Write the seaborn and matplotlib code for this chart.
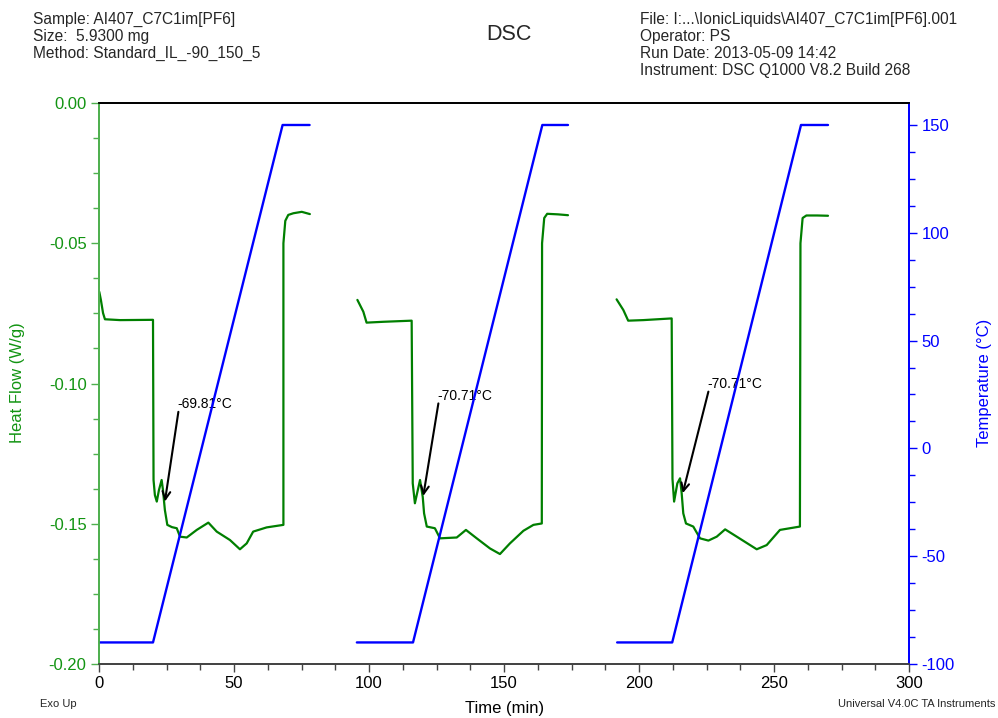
import matplotlib
matplotlib.use("Agg")
import matplotlib.pyplot as plt
import matplotlib.ticker as mticker
import seaborn as sns
import pandas as pd

# ---- data ----
cycle1_time = [0.1, 0.7, 1.5, 2.2, 7.8, 20.0, 20.2, 20.7, 21.4, 22.2, 23.2, 23.7, 24.1, 24.4, 25.3, 27.0,
               28.8, 30.0, 32.5, 36.2, 40.5, 43.6, 48.5, 52.2, 54.7, 57.1, 62.1, 68.3, 68.3, 69.0, 70.1,
               72.0, 75.1, 78.1]
cycle1_hf = [-0.0673, -0.0702, -0.0749, -0.0771, -0.0774, -0.0773, -0.1344, -0.1398, -0.1421, -0.1380,
             -0.1344, -0.1380, -0.1421, -0.1451, -0.1504, -0.1512, -0.1516, -0.1546, -0.1549, -0.1522,
             -0.1496, -0.1528, -0.1558, -0.1591, -0.1570, -0.1528, -0.1513, -0.1504, -0.0500, -0.0420,
             -0.0399, -0.0393, -0.0388, -0.0396]

cycle2_time = [95.7, 97.9, 99.1, 105.3, 115.8, 116.2, 117.0, 118.9, 119.9, 120.4, 121.4, 124.4, 126.3,
               132.5, 135.9, 139.9, 144.8, 148.5, 152.2, 157.2, 160.9, 164.0, 164.1, 164.9, 166.0,
               170.0, 173.7]
cycle2_hf = [-0.0702, -0.0744, -0.0783, -0.0780, -0.0776, -0.1356, -0.1427, -0.1344, -0.1404, -0.1463,
             -0.1510, -0.1516, -0.1552, -0.1549, -0.1522, -0.1552, -0.1588, -0.1608, -0.1570, -0.1525,
             -0.1504, -0.1499, -0.0500, -0.0410, -0.0395, -0.0397, -0.0400]

cycle3_time = [191.7, 194.2, 196.0, 201.6, 212.1, 212.4, 213.0, 214.2, 215.2, 215.8, 216.4, 217.4, 220.1,
               222.6, 225.7, 228.8, 231.9, 236.2, 243.6, 247.3, 252.2, 259.6, 259.8, 260.6, 262.0,
               266.0, 270.0]
cycle3_hf = [-0.0700, -0.0738, -0.0776, -0.0774, -0.0768, -0.1340, -0.1421, -0.1356, -0.1338, -0.1391,
             -0.1463, -0.1499, -0.1510, -0.1552, -0.1560, -0.1546, -0.1520, -0.1546, -0.1591, -0.1576,
             -0.1522, -0.1510, -0.0500, -0.0410, -0.0401, -0.0401, -0.0402]

temp_time = [[0.0, 20.0, 68.0, 78.0], [95.5, 116.3, 164.2, 173.7], [191.9, 212.3, 260.0, 270.0]]
temp_value = [[-90, -90, 150, 150], [-90, -90, 150, 150], [-90, -90, 150, 150]]

annot_labels = ["-69.81°C", "-70.71°C", "-70.71°C"]
annot_tip = [(24.4, -0.1421), (120.1, -0.1401), (216.2, -0.1391)]
annot_start = [(29.4, -0.1101), (125.7, -0.1071), (225.7, -0.1029)]
annot_text = [(28.9, -0.1073), (125.2, -0.1046), (225.2, -0.1002)]

x_ticks = [0, 50, 100, 150, 200, 250, 300]
hf_ticks = [-0.20, -0.15, -0.10, -0.05, 0.00]
temp_ticks = [-100, -50, 0, 50, 100, 150]

# ---- style ----
sns.set_theme(style="ticks")
plt.rcParams['font.family'] = ['Liberation Sans', 'DejaVu Sans']
plt.rcParams['axes.unicode_minus'] = False

GREEN_LINE = "#007f00"
GREEN_TXT = "#129412"
GREEN_SPINE = "#4fb04f"
BLUE = "#0000ff"

fig = plt.figure(figsize=(9.98, 7.18), dpi=100)
ax = fig.add_axes([99 / 998, 1 - 664 / 718, 810 / 998, 561 / 718])
ax2 = ax.twinx()

for t, h in [(cycle1_time, cycle1_hf), (cycle2_time, cycle2_hf), (cycle3_time, cycle3_hf)]:
    df = pd.DataFrame({"time": t, "hf": h})
    sns.lineplot(data=df, x="time", y="hf", ax=ax, sort=False, estimator=None,
                 color=GREEN_LINE, lw=1.6)

for t, v in zip(temp_time, temp_value):
    df = pd.DataFrame({"time": t, "temp": v})
    sns.lineplot(data=df, x="time", y="temp", ax=ax2, sort=False, estimator=None,
                 color=BLUE, lw=1.7)

# annotations
for lab, tip, st, tx in zip(annot_labels, annot_tip, annot_start, annot_text):
    ax.annotate("", xy=tip, xytext=st,
                arrowprops=dict(arrowstyle="->", color="black", lw=1.5,
                                shrinkA=0, shrinkB=0, mutation_scale=14))
    ax.text(tx[0], tx[1], lab, fontsize=10, color="black", ha="left", va="center")

# axes limits & ticks
ax.set_xlim(0, 300)
ax.set_ylim(-0.20, 0.0)
ax2.set_ylim(-100, 160.2)

ax.set_xticks(x_ticks)
ax.set_yticks(hf_ticks)
ax.yaxis.set_major_formatter(mticker.FormatStrFormatter("%.2f"))
ax2.set_yticks(temp_ticks)
ax.xaxis.set_minor_locator(mticker.MultipleLocator(12.5))
ax.yaxis.set_minor_locator(mticker.MultipleLocator(0.0125))
ax2.yaxis.set_minor_locator(mticker.MultipleLocator(12.5))

ax.tick_params(axis="x", which="major", direction="out", length=6, width=1, colors="#444444",
               labelcolor="black", labelsize=12, pad=3)
ax.tick_params(axis="x", which="minor", direction="out", length=4, width=1, colors="#444444")
ax.tick_params(axis="y", which="major", direction="out", length=6, width=1, colors=GREEN_SPINE,
               labelcolor=GREEN_TXT, labelsize=12, pad=3)
ax.tick_params(axis="y", which="minor", direction="out", length=4, width=1, colors=GREEN_SPINE)
ax2.tick_params(axis="y", which="major", direction="out", length=6, width=1, colors=BLUE,
                labelcolor=BLUE, labelsize=12, pad=3)
ax2.tick_params(axis="y", which="minor", direction="out", length=4, width=1, colors=BLUE)

for a in (ax, ax2):
    a.spines["top"].set_color("black")
    a.spines["bottom"].set_color("#444444")
    a.spines["left"].set_color(GREEN_SPINE)
    a.spines["right"].set_color(BLUE)
    for s in a.spines.values():
        s.set_linewidth(1.3)
    a.spines["top"].set_visible(True)
    a.spines["right"].set_visible(True)

ax.set_xlabel("")
ax.set_ylabel("")
ax2.set_ylabel("")
ax.grid(False)
ax2.grid(False)

# axis labels
fig.text(505 / 998, 1 - 708 / 718, "Time (min)", fontsize=12, ha="center", va="center", color="black")
fig.text(18 / 998, 1 - 383 / 718, "Heat Flow (W/g)", fontsize=12, ha="center", va="center",
         rotation=90, color=GREEN_TXT)
fig.text(985 / 998, 1 - 383 / 718, "Temperature (°C)", fontsize=12, ha="center", va="center",
         rotation=90, color=BLUE)

# header
fig.text(509 / 998, 1 - 35 / 718, "DSC", fontsize=15.5, ha="center", va="center")
left_lines = ["Sample: AI407_C7C1im[PF6]", "Size:  5.9300 mg", "Method: Standard_IL_-90_150_5"]
right_lines = ["File: I:...\\IonicLiquids\\AI407_C7C1im[PF6].001", "Operator: PS",
               "Run Date: 2013-05-09 14:42", "Instrument: DSC Q1000 V8.2 Build 268"]
for i, s in enumerate(left_lines):
    fig.text(33 / 998, 1 - (19 + 17 * i) / 718, s, fontsize=11.2, ha="left", va="center")
for i, s in enumerate(right_lines):
    fig.text(640 / 998, 1 - (19 + 17 * i) / 718, s, fontsize=11.2, ha="left", va="center")

fig.text(40 / 998, 1 - 704 / 718, "Exo Up", fontsize=8, ha="left", va="center")
fig.text(995 / 998, 1 - 704 / 718, "Universal V4.0C TA Instruments", fontsize=8, ha="right", va="center")

fig.savefig("out.png", dpi=100)
